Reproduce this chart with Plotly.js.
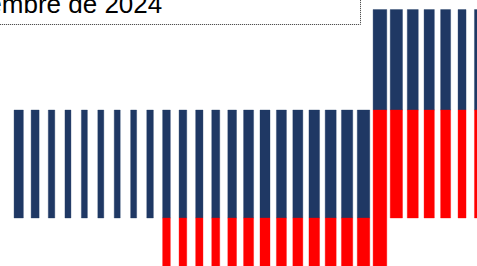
<!DOCTYPE html>
<html>
<head>
<meta charset="utf-8">
<script src="https://cdn.plot.ly/plotly-3.0.1.min.js"></script>
<style>
  html, body { margin: 0; padding: 0; background: #ffffff; }
  #chart { width: 477px; height: 266px; }
</style>
</head>
<body>
<div id="chart"></div>
<script>
// ---- data ----
const titleText = "Diciembre de 2024";
const categories = [0,1,2,3,4,5,6,7,8,9,10,11,12,13,14,15,16,17,18,19,20,21,22,23,24,25,26,27,28];
// navy series: lower and upper value of each bar
const navyLow  = [0,0,0,0,0,0,0,0,0,0,0,0,0,0,0,0,0,0,0,0,0,0, 1,1,1,1,1,1,1];
const navyHigh = [1,1,1,1,1,1,1,1,1,1,1,1,1,1,1,1,1,1,1,1,1,1, 1.93,1.93,1.93,1.93,1.93,1.93,1.93];
// red series: upper and lower value of each bar
const redHigh  = [null,null,null,null,null,null,null,null,null, 0,0,0,0,0,0,0,0,0,0,0,0,0, 1, 1,1,1,1,1,1];
const redLow   = [null,null,null,null,null,null,null,null,null, -1,-1,-1,-1,-1,-1,-1,-1,-1,-1,-1,-1,-1, -1, 0,0,0,0,0,0];

// ---- styles ----
const pxPerCat = 16.42;
const barPx = [9.3,8,6.5,6,6,6,6,6,6.6,7.7,7.7,7.3,8,8.7,10,10,10,10,10.6,11,11.3,12.5,13.7,12.3,11,10.3,10,8,8];
const widths = barPx.map(w => w / pxPerCat);
const navy = "#1F3864";
const red = "#FF0000";

const navyTrace = {
  type: "bar",
  x: categories,
  base: navyLow,
  y: navyHigh.map((h, i) => h - navyLow[i]),
  width: widths,
  marker: { color: navy, line: { color: "rgba(31,56,100,0.35)", width: 1 } },
  hoverinfo: "skip",
  showlegend: false
};
const redTrace = {
  type: "bar",
  x: categories,
  base: redHigh,
  y: redLow.map((l, i) => (l === null ? null : l - redHigh[i])),
  width: widths,
  marker: { color: red, line: { color: "rgba(255,0,0,0.35)", width: 1 } },
  hoverinfo: "skip",
  showlegend: false
};

const W = 477, H = 266;
const layout = {
  width: W, height: H,
  margin: { l: 0, r: 0, t: 0, b: 0, pad: 0 },
  paper_bgcolor: "#ffffff",
  plot_bgcolor: "#ffffff",
  barmode: "overlay",
  showlegend: false,
  xaxis: {
    range: [-18.7 / pxPerCat, (W - 18.7) / pxPerCat],
    visible: false, fixedrange: true
  },
  yaxis: {
    range: [-(H - 218) / 108, 218 / 108],
    visible: false, fixedrange: true
  },
  shapes: [{
    type: "rect", xref: "paper", yref: "paper",
    x0: -0.05, x1: 360.5 / W, y0: 1 - 24.5 / H, y1: 1.1,
    line: { color: "#333333", width: 1, dash: "1px,1px" },
    fillcolor: "rgba(0,0,0,0)"
  }],
  annotations: [{
    text: titleText,
    xref: "paper", yref: "paper",
    x: 164 / W, xanchor: "right",
    y: 1 - 4 / H, yanchor: "middle",
    showarrow: false,
    font: { family: "Liberation Sans, Arial, sans-serif", size: 26, color: "#000000" }
  }]
};

Plotly.newPlot("chart", [navyTrace, redTrace], layout, { staticPlot: true, displayModeBar: false });
</script>
</body>
</html>
